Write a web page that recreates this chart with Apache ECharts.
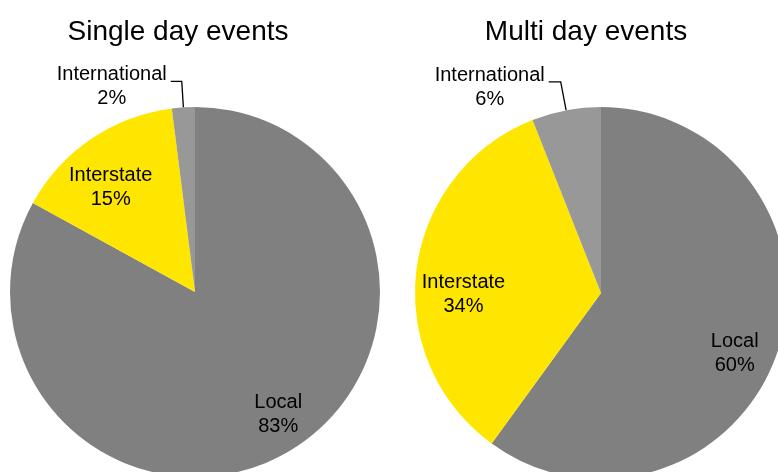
<!DOCTYPE html>
<html><head><meta charset="utf-8">
<script src="https://cdn.jsdelivr.net/npm/echarts@6/dist/echarts.min.js"></script>
<style>html,body{margin:0;padding:0;background:#fff}#c{width:778px;height:472px}</style>
</head><body><div id="c"></div>
<script>
const categories = ['Local', 'Interstate', 'International'];
const singleDay = [83, 15, 2];
const multiDay = [60, 34, 6];
const titles = ['Single day events', 'Multi day events'];
const colors = ['#808080', '#FFE600', '#989898'];

const FONT = '"Liberation Sans", Arial, sans-serif';
const chart = echarts.init(document.getElementById('c'));

function mainSeries(values, center, radius, len1, len2) {
  return {
    type: 'pie', center: center, radius: radius, startAngle: 90, clockwise: true,
    silent: true, animation: false,
    data: categories.map((c, i) => ({
      name: c, value: values[i], itemStyle: { color: colors[i] },
      label: { show: i === 2 },
      labelLine: { show: i === 2 }
    })),
    label: {
      position: 'outside', color: '#000', fontFamily: FONT, fontSize: 20,
      formatter: p => '{a|' + p.name + '}\n{a|' + p.value + '%}',
      rich: { a: { width: 116, align: 'center', fontSize: 20, fontFamily: FONT, color: '#000', lineHeight: 24 } },
      padding: [11, 0, 0, 0],
      distanceToLabelLine: 1
    },
    labelLine: { length: len1, length2: len2, lineStyle: { color: '#000', width: 1.3 } }
  };
}
// invisible ring used only to place one inside label (label at the ring's mid radius)
function labelRing(values, center, R, k, r, start) {
  return {
    type: 'pie', center: center, radius: [2 * r - R, R], startAngle: start, clockwise: true,
    silent: true, animation: false,
    itemStyle: { color: 'rgba(0,0,0,0)' },
    data: categories.map((c, i) => ({
      name: c, value: values[i], label: { show: i === k }
    })),
    label: {
      position: 'inside', color: '#000', fontFamily: FONT, fontSize: 20, lineHeight: 24,
      formatter: p => p.name + '\n' + p.value + '%'
    },
    labelLine: { show: false }
  };
}

const C1 = [195, 292], R1 = 185;
const C2 = [601, 293], R2 = 186;

chart.setOption({
  backgroundColor: '#fff',
  title: [
    { text: titles[0], left: 173, top: 13, textAlign: 'center', textStyle: { fontFamily: FONT, fontSize: 28, fontWeight: 'normal', color: '#000' } },
    { text: titles[1], left: 581, top: 13, textAlign: 'center', textStyle: { fontFamily: FONT, fontSize: 28, fontWeight: 'normal', color: '#000' } }
  ],
  series: [
    mainSeries(singleDay, C1, R1, 26, 11),
    labelRing(singleDay, C1, R1, 0, 145, 93.6),
    labelRing(singleDay, C1, R1, 1, 131.6, 94.6),
    mainSeries(multiDay, C2, R2, 29, 12),
    labelRing(multiDay, C2, R2, 0, 143.7, 83.75),
    labelRing(multiDay, C2, R2, 1, 134.5, 97.8)
  ]
});
</script></body></html>
